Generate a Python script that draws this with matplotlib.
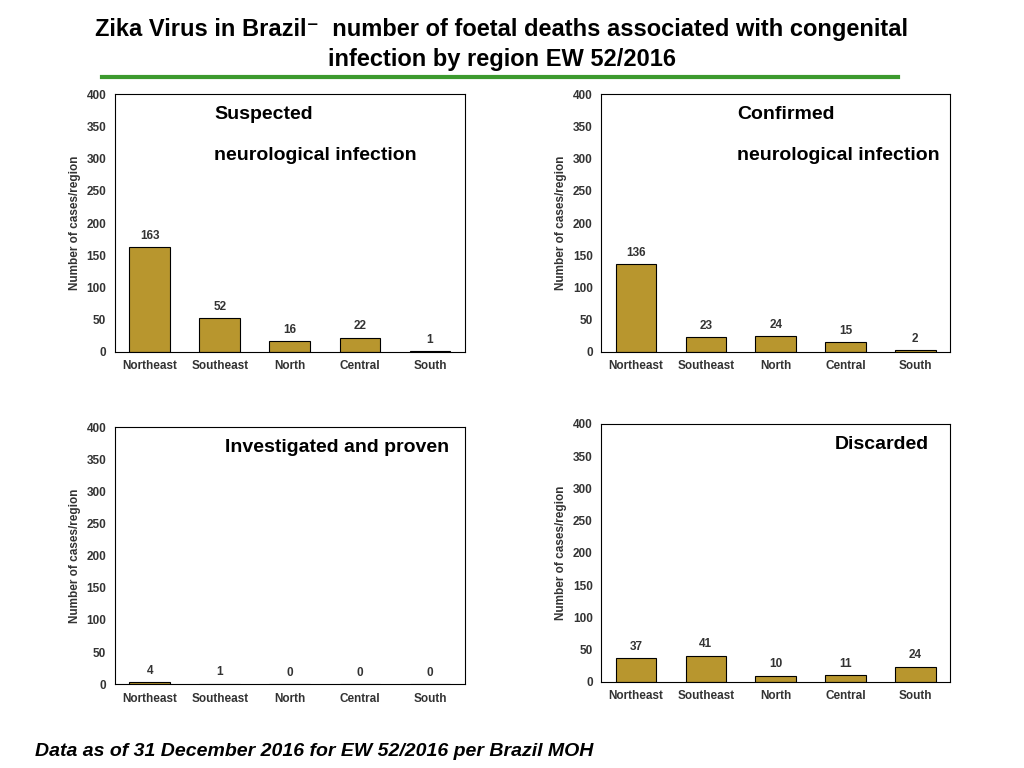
import matplotlib
matplotlib.use("Agg")
import matplotlib.pyplot as plt
from matplotlib.lines import Line2D

plt.rcParams['font.family'] = ['Liberation Sans', 'DejaVu Sans']

regions = ["Northeast", "Southeast", "North", "Central", "South"]
suspected = [163, 52, 16, 22, 1]
confirmed = [136, 23, 24, 15, 2]
investigated = [4, 1, 0, 0, 0]
discarded = [37, 41, 10, 11, 24]

panels = [
    (suspected, "Suspected\n\nneurological infection", [0.112, 0.542, 0.342, 0.335], 0.285, "left"),
    (confirmed, "Confirmed\n\nneurological infection", [0.587, 0.542, 0.341, 0.335], 0.39, "left"),
    (investigated, "Investigated and proven", [0.112, 0.109, 0.342, 0.335], 0.955, "right"),
    (discarded, "Discarded", [0.587, 0.112, 0.341, 0.336], 0.94, "right"),
]

fig = plt.figure(figsize=(10.24, 7.68), dpi=100)

for vals, label, pos, tx, ha in panels:
    ax = fig.add_axes(pos)
    bars = ax.bar(regions, vals, width=0.58, color="#B8962E", edgecolor="black", linewidth=0.8)
    for b, v in zip(bars, vals):
        ax.text(b.get_x() + b.get_width() / 2, v + 8, str(v), ha="center", va="bottom",
                fontsize=8.5, fontweight="bold", color="#333333")
    ax.set_ylim(0, 400)
    ax.set_xlim(-0.5, 4.5)
    ax.set_yticks(range(0, 401, 50))
    ax.tick_params(axis="both", labelsize=8.5, length=0, colors="#333333", pad=6)
    for t in ax.get_xticklabels() + ax.get_yticklabels():
        t.set_fontweight("bold")
    ax.set_ylabel("Number of cases/region", fontsize=8.5, fontweight="bold", color="#333333")
    for s in ax.spines.values():
        s.set_linewidth(0.8)
    ax.text(tx, 0.955, label, transform=ax.transAxes, ha=ha, va="top",
            fontsize=14, fontweight="bold", linespacing=1.25)

fig.text(0.49, 0.977, "Zika Virus in Brazil\u207b  number of foetal deaths associated with congenital\ninfection by region EW 52/2016",
         ha="center", va="top", fontsize=17, fontweight="bold", linespacing=1.4)
fig.add_artist(Line2D([0.1, 0.877], [0.9, 0.9], color="#3C9A2E", linewidth=3))
fig.text(0.034, 0.01, "Data as of 31 December 2016 for EW 52/2016 per Brazil MOH",
         ha="left", va="bottom", fontsize=14, fontweight="bold", style="italic")

fig.savefig("out.png", dpi=100)
